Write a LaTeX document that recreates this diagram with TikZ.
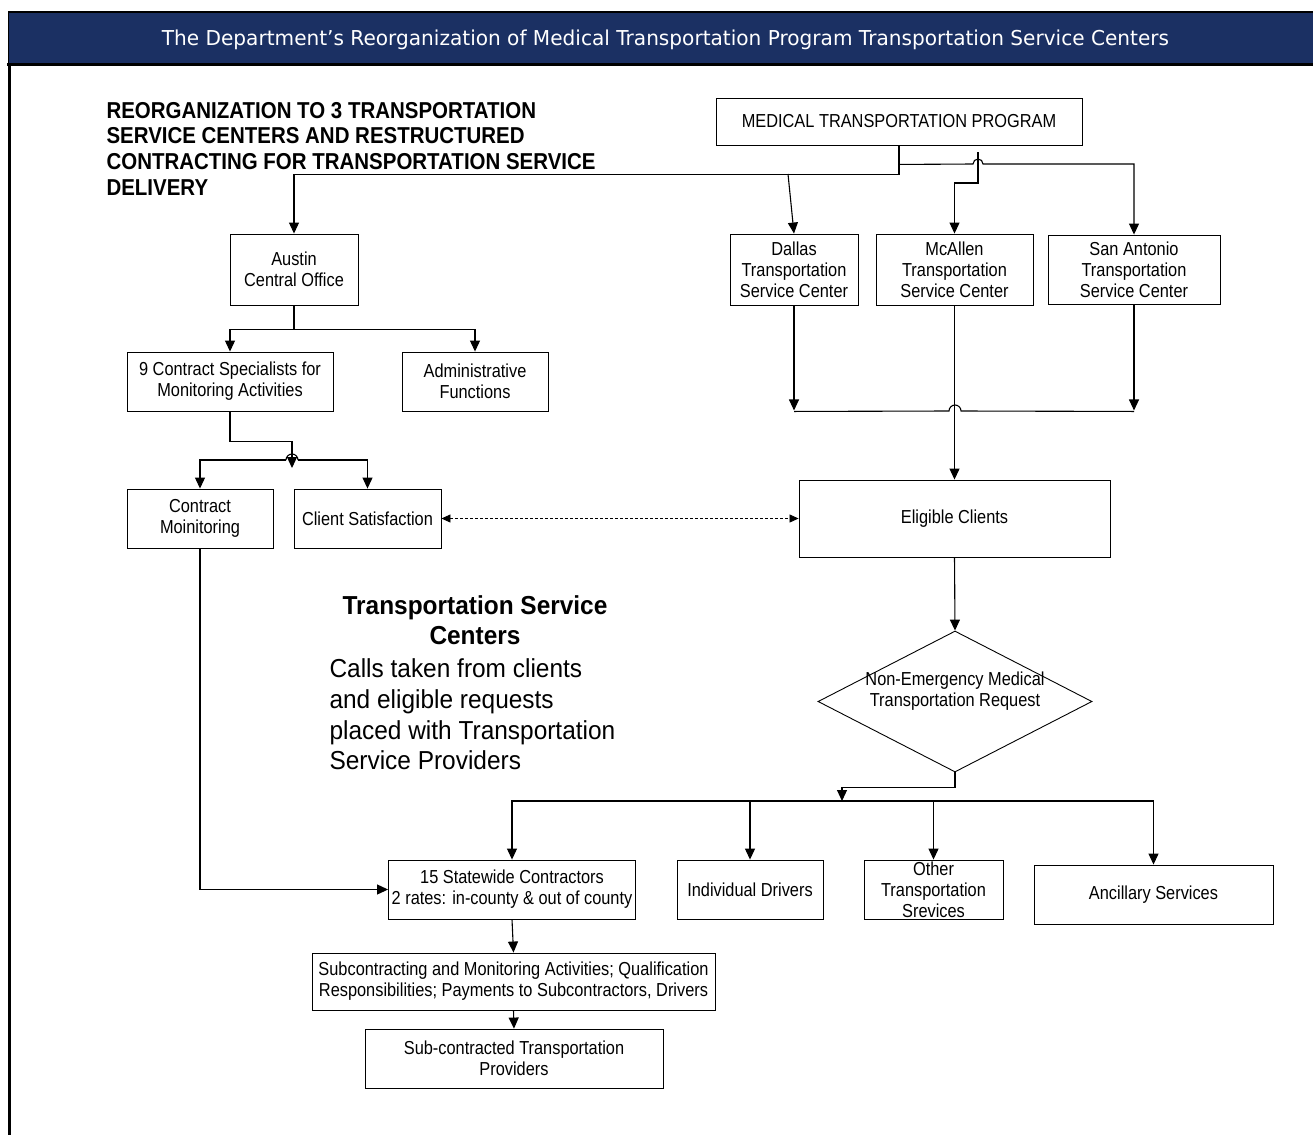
\documentclass[tikz,border=0pt]{standalone}
\usepackage{fontspec}
\setmainfont{Liberation Sans}
\newfontfamily\boxfont[FakeStretch=0.87]{Liberation Sans}
\newfontfamily\headfont[FakeStretch=0.89]{Liberation Sans}
\newfontfamily\midfont[FakeStretch=0.94]{Liberation Sans}
\newfontfamily\titlefont[FakeStretch=0.98]{DejaVu Sans}
\usetikzlibrary{arrows.meta,shapes.geometric,calc}
\definecolor{navy}{HTML}{1B3063}
\begin{document}
\begin{tikzpicture}[x=1pt,y=-1pt,line width=1.1pt,
  box/.style={draw,line width=0.9pt,inner sep=0pt,align=center,
    font=\boxfont\fontsize{18.8}{21}\selectfont},
  arr/.style={-{Triangle[length=11pt,width=10pt]}},
  darr/.style={dashed,dash pattern=on 3pt off 2pt,line width=0.8pt,
    {Triangle[length=9pt,width=8pt]}-{Triangle[length=9pt,width=8pt]}}]
\useasboundingbox[fill=white] (0,0) rectangle (1313,1135);
% header
\fill[navy] (8,12) rectangle (1313,65);
\draw[line width=1.3pt] (8,12) -- (1313,12);
\draw[line width=2.4pt] (7,64.5) -- (1313,64.5);
\draw[line width=1.2pt] (8.6,12) -- (8.6,64);
\draw[line width=2.6pt] (9.5,64) -- (9.5,1135);
\node[anchor=base,text=white,inner sep=0,font=\titlefont\fontsize{20.5}{24}\selectfont] (title) at (665.5,45)
  {The Department’s Reorganization of Medical Transportation Program Transportation Service Centers};
% texts
\node[anchor=north west,inner sep=0,align=left,font=\headfont\bfseries\fontsize{23}{25.8}\selectfont] (heading) at (106,101.5)
  {REORGANIZATION TO 3 TRANSPORTATION\\SERVICE CENTERS AND RESTRUCTURED\\CONTRACTING FOR TRANSPORTATION SERVICE\\DELIVERY};
\node[anchor=north,inner sep=0,align=center,font=\midfont\bfseries\fontsize{26}{30}\selectfont] (tsc) at (475,595)
  {Transportation Service\\Centers};
\node[anchor=north west,inner sep=0,align=left,font=\midfont\fontsize{26}{30.8}\selectfont] (calls) at (329,658)
  {Calls taken from clients\\and eligible requests\\placed with Transportation\\Service Providers};
% boxes
\node[box,minimum width=366pt,minimum height=47pt] (mtp) at (899,121.5) {MEDICAL TRANSPORTATION PROGRAM};
\node[box,minimum width=128pt,minimum height=71pt] (austin) at (294,269.5) {Austin\\Central Office};
\node[box,minimum width=128pt,minimum height=71pt] (dallas) at (794,269.5) {Dallas\\Transportation\\Service Center};
\node[box,minimum width=157pt,minimum height=71pt] (mcallen) at (954.5,269.5) {McAllen\\Transportation\\Service Center};
\node[box,minimum width=172pt,minimum height=69pt] (sa) at (1134,269.5) {San Antonio\\Transportation\\Service Center};
\node[box,minimum width=206pt,minimum height=59pt] (cs) at (230,381.5) {9 Contract Specialists for\\Monitoring Activities};
\node[box,minimum width=146pt,minimum height=59pt] (adm) at (475,381.5) {Administrative\\Functions};
\node[box,minimum width=146pt,minimum height=59pt] (cm) at (200,518.5) {Contract\\Moinitoring};
\node[box,minimum width=147pt,minimum height=59pt] (csat) at (367.5,518.5) {Client Satisfaction};
\node[box,minimum width=311pt,minimum height=77pt] (elig) at (954.5,518.5) {Eligible Clients};
\node[draw,line width=0.9pt,diamond,inner sep=0pt,minimum width=274pt,minimum height=141pt] (req) at (955,701.5) {};
\node[inner sep=0pt,align=center,font=\boxfont\fontsize{18.8}{21}\selectfont] (reqtext) at ($(req.center)+(0,-10)$)
  {Non-Emergency Medical\\Transportation Request};
\node[box,minimum width=247pt,minimum height=59pt] (stat) at (512,889.5) {15 Statewide Contractors\\2 rates: in-county \& out of county};
\node[box,minimum width=146pt,minimum height=59pt] (drv) at (750,889.5) {Individual Drivers};
\node[box,minimum width=139pt,minimum height=59pt] (oth) at (933.5,889.5) {Other\\Transportation\\Srevices};
\node[box,minimum width=239pt,minimum height=59pt] (anc) at (1153.5,894.5) {Ancillary Services};
\node[box,minimum width=403pt,minimum height=57pt] (subc) at (513.5,981.5) {Subcontracting and Monitoring Activities; Qualification\\Responsibilities; Payments to Subcontractors, Drivers};
\node[box,minimum width=298pt,minimum height=59pt] (subp) at (514,1058.5) {Sub-contracted Transportation\\Providers};
% connectors top
\draw[arr] (mtp.south) -- ++(0,29) -| (austin.north);
\coordinate (dsplit) at (788,174);
\draw[arr] (dsplit) -- (dallas.north);
\draw[arr] ($(mtp.south)+(0,19)$) -- (973,164) arc[start angle=180,end angle=0,radius=5pt] -- (1134,164) -- (sa.north);
\coordinate (mcin) at (978,152);
\draw[arr] (mcin) -- (978,183) -| (mcallen.north);
% service centers to eligible clients
\draw[arr] (dallas.south) -- ++(0,105);
\draw[arr] (sa.south) -- ++(0,106);
\draw ($(dallas.south)+(0,106)$) -- (949,411) arc[start angle=180,end angle=0,radius=6pt] -- ($(sa.south)+(0,107)$);
\draw[arr] (mcallen.south) -- (elig.north);
% Austin branch
\draw[arr] (austin.south) -- ++(0,24) -| (cs.north);
\draw[arr] (austin.south) -- ++(0,24) -| (adm.north);
\coordinate (j2) at (292,460);
\draw[arr] (cs.south) -- ++(0,30) -| ($(j2)+(0,8)$);
\draw[arr] ($(j2)+(-6,0)$) -| (cm.north);
\draw[arr] ($(j2)+(6,0)$) -| (csat.north);
\draw ($(j2)+(-6,0)$) arc[start angle=180,end angle=0,radius=6pt];
\draw[darr] (csat.east) -- (elig.west);
% request branch
\draw[arr] (elig.south) -- (req.north);
\coordinate (j3) at (842,801);
\draw[arr] (req.south) -- ++(0,15) -| (j3);
\draw[arr] (j3) -| (stat.north);
\draw[arr] (j3) -| (drv.north);
\draw[arr] (j3) -| (oth.north);
\draw[arr] (j3) -| (anc.north);
\draw[arr] (cm.south) |- (stat.west);
\draw[arr] (stat.south) -- (subc.north);
\draw[arr] (subc.south) -- (subp.north);
\end{tikzpicture}
\end{document}
